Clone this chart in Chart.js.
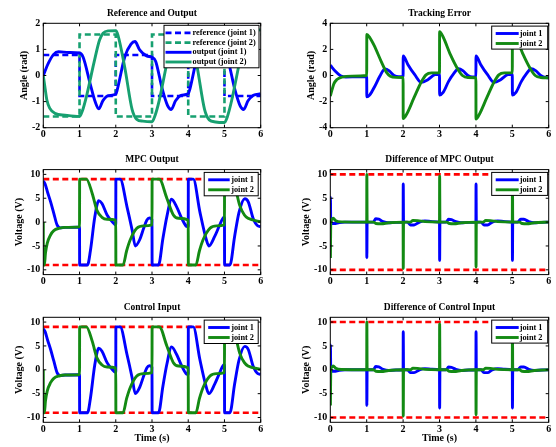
<!DOCTYPE html>
<html><head><meta charset="utf-8">
<script src="https://cdn.jsdelivr.net/npm/chart.js@4/dist/chart.umd.min.js"></script>
<style>
html,body{margin:0;padding:0;background:#fff;}
#wrap{position:relative;width:556px;height:447px;overflow:hidden;background:#fff;}
canvas{position:absolute;}
</style></head><body><div id="wrap">
<canvas id="c1"></canvas><canvas id="c2"></canvas>
<canvas id="c3"></canvas><canvas id="c4"></canvas>
<canvas id="c5"></canvas><canvas id="c6"></canvas>
</div>
<script>
// ---------- data ----------
const timeTicks = [0,1,2,3,4,5,6];
const angleTicks = [-2,-1,0,1,2];
const errorTicks = [-4,-2,0,2,4];
const voltTicks = [-10,-5,0,5,10];

const refTimes = [0,1,2,3,4,5,6];
const refJ1 = [0.785,-0.785,0.785,-0.785,0.785,-0.785,-0.785];
const refJ2 = [-1.571,1.571,-1.571,1.571,-1.571,1.571,1.571];

const outJ1 = [[0,0],[0.14,0.47],[0.28,0.8],[0.42,0.91],[0.7,0.88],[1.0,0.86],[1.1,0.7],[1.29,-0.3],[1.43,-1.0],[1.53,-1.28],[1.65,-0.95],[1.8,-0.77],[2.0,-0.72],[2.04,-0.55],[2.25,0.72],[2.42,1.2],[2.53,1.3],[2.66,0.98],[2.85,0.75],[3.0,0.7],[3.1,0.55],[3.28,-0.5],[3.43,-1.15],[3.53,-1.3],[3.65,-0.97],[3.8,-0.76],[4.0,-0.7],[4.04,-0.55],[4.25,0.72],[4.42,1.2],[4.53,1.3],[4.66,0.98],[4.85,0.75],[5.0,0.7],[5.1,0.55],[5.28,-0.5],[5.43,-1.15],[5.53,-1.3],[5.65,-0.97],[5.8,-0.76],[6.0,-0.7]];
const outJ2 = [[0,0],[0.05,-0.5],[0.1,-0.95],[0.18,-1.26],[0.32,-1.45],[0.6,-1.52],[1.0,-1.57],[1.08,-1.35],[1.2,-0.75],[1.4,0.5],[1.55,1.35],[1.65,1.62],[1.8,1.71],[2.0,1.72],[2.06,1.55],[2.25,0.3],[2.45,-1.3],[2.58,-1.68],[2.75,-1.75],[3.0,-1.77],[3.08,-1.55],[3.2,-0.95],[3.4,0.4],[3.55,1.35],[3.65,1.62],[3.8,1.72],[4.0,1.74],[4.06,1.57],[4.25,0.3],[4.45,-1.3],[4.58,-1.7],[4.75,-1.78],[5.0,-1.8],[5.08,-1.58],[5.2,-0.95],[5.4,0.4],[5.55,1.35],[5.65,1.62],[5.8,1.72],[6.0,1.75]];

const errJ1 = [[0,0.785],[0.14,0.32],[0.28,-0.02],[0.42,-0.12],[0.7,-0.1],[1.0,-0.08],[1.003,-1.64],[1.08,-1.5],[1.22,-0.84],[1.36,-0.06],[1.5,0.5],[1.62,0.35],[1.75,0.0],[1.88,-0.1],[2.0,-0.1],[2.003,1.5],[2.13,0.85],[2.32,0.06],[2.5,-0.53],[2.68,-0.32],[2.87,0.06],[3.0,0.1],[3.003,-1.49],[3.1,-1.3],[3.25,-0.45],[3.38,0.1],[3.52,0.52],[3.65,0.35],[3.78,0.0],[3.9,-0.12],[4.0,-0.1],[4.003,1.5],[4.13,0.85],[4.32,0.06],[4.5,-0.53],[4.68,-0.32],[4.87,0.06],[5.0,0.1],[5.003,-1.49],[5.1,-1.3],[5.25,-0.45],[5.38,0.1],[5.52,0.52],[5.65,0.35],[5.78,0.0],[5.9,-0.15],[6.0,-0.18]];
const errJ2 = [[0,-1.571],[0.05,-1.07],[0.1,-0.62],[0.18,-0.31],[0.32,-0.12],[0.6,-0.05],[1.0,0.0],[1.003,3.14],[1.08,2.92],[1.2,2.32],[1.4,1.07],[1.55,0.22],[1.65,-0.05],[1.8,-0.14],[2.0,-0.15],[2.003,-3.29],[2.1,-2.95],[2.3,-1.7],[2.5,-0.5],[2.63,0.05],[2.78,0.2],[3.0,0.2],[3.003,3.36],[3.1,2.95],[3.3,1.6],[3.5,0.5],[3.63,0.0],[3.78,-0.15],[4.0,-0.17],[4.003,-3.34],[4.1,-2.95],[4.3,-1.7],[4.5,-0.5],[4.63,0.05],[4.78,0.2],[5.0,0.22],[5.003,3.36],[5.1,2.95],[5.3,1.6],[5.5,0.5],[5.63,0.0],[5.78,-0.15],[6.0,-0.18]];

const mpcJ1 = [[0,8.6],[0.05,8.0],[0.12,6.2],[0.2,4.3],[0.29,1.85],[0.38,-0.6],[0.47,-1.2],[0.6,-1.1],[1.0,-1.05],[1.003,-9],[1.22,-9],[1.3,-6],[1.42,1.0],[1.53,4.5],[1.62,3.9],[1.76,1.5],[1.9,0.1],[2.0,-0.6],[2.003,9],[2.12,9],[2.31,3.2],[2.45,-1.6],[2.54,-5],[2.66,-3.7],[2.77,-1.3],[2.86,0.45],[2.93,0.85],[3.0,0.5],[3.003,-9],[3.18,-9],[3.3,-3.5],[3.41,1.15],[3.54,4.8],[3.68,3.2],[3.82,0.8],[3.96,-0.94],[4.0,-1.0],[4.003,9],[4.14,9],[4.32,2.2],[4.5,-3.7],[4.57,-5],[4.73,-3],[4.87,-0.6],[4.98,1.0],[5.0,1.0],[5.003,-9],[5.15,-9],[5.28,-3],[5.4,2],[5.56,4.9],[5.66,4.2],[5.79,0.8],[5.92,-0.8],[6.0,-0.94]];
const mpcJ2 = [[0,0],[0.003,-9],[0.03,-9],[0.06,-6.5],[0.11,-4.4],[0.2,-2.7],[0.29,-1.8],[0.43,-1.3],[0.6,-1.1],[1.0,-1.0],[1.003,9],[1.19,9],[1.35,6],[1.48,2.5],[1.62,1.0],[1.76,0.6],[2.0,0.4],[2.003,-9],[2.2,-9],[2.3,-6],[2.4,-3.7],[2.58,-1.3],[2.77,-0.8],[3.0,-0.6],[3.003,9],[3.2,9],[3.41,5],[3.59,1.5],[3.73,0.8],[4.0,0.4],[4.003,-9],[4.21,-9],[4.31,-6],[4.41,-3.7],[4.6,-1.3],[4.78,-0.8],[5.0,-0.6],[5.003,9],[5.2,9],[5.32,6.5],[5.42,3.5],[5.55,1.5],[5.65,0.8],[6.0,0.1]];

const dMpcJ1 = [[0,0],[0.004,5.2],[0.012,-0.25],[0.1,-0.3],[0.25,-0.1],[0.4,0],[1.0,0],[1.004,-7.5],[1.012,0],[1.18,0],[1.25,0.7],[1.33,0.6],[1.45,0.1],[1.6,-0.15],[1.8,-0.05],[2.0,0],[2.004,8],[2.012,0],[2.12,0],[2.2,-0.6],[2.3,-0.6],[2.45,0],[2.6,0.25],[2.8,0.1],[3.0,0],[3.004,-8],[3.012,0],[3.18,0],[3.25,0.6],[3.33,0.5],[3.45,0.1],[3.6,-0.15],[3.8,-0.05],[4.0,0],[4.004,8],[4.012,0],[4.14,0],[4.22,-0.6],[4.32,-0.6],[4.45,0],[4.6,0.25],[4.8,0.1],[5.0,0],[5.004,-8],[5.012,0],[5.15,0],[5.23,0.6],[5.32,0.6],[5.45,0.1],[5.6,-0.15],[5.8,-0.05],[6.0,0]];
const dMpcJ2 = [[0,0],[0.004,-7.2],[0.012,0],[0.05,0.6],[0.08,0.8],[0.15,0.3],[0.3,0.05],[1.0,0],[1.004,10],[1.012,0],[1.19,0],[1.25,-0.3],[1.4,-0.35],[1.6,-0.15],[2.0,0],[2.004,-9.7],[2.012,0],[2.2,0],[2.27,0.35],[2.4,0.3],[2.6,0.1],[3.0,0],[3.004,9.6],[3.012,0],[3.2,0],[3.27,-0.3],[3.4,-0.35],[3.6,-0.15],[4.0,0],[4.004,-9.4],[4.012,0],[4.2,0],[4.27,0.35],[4.4,0.3],[4.6,0.1],[5.0,0],[5.004,9.7],[5.012,0],[5.2,0],[5.27,-0.3],[5.4,-0.35],[5.6,-0.15],[6.0,0]];

const ctrlJ1 = mpcJ1;
const ctrlJ2 = mpcJ2;
const dCtrlJ1 = dMpcJ1;
const dCtrlJ2 = dMpcJ2;

const mpcLimits = [9, -9];
const diffLimits = [10, -10];

// ---------- styling ----------
const FONT = 'Liberation Serif';
const C_BLUE = '#0000ff', C_TEAL = '#17a070', C_GREEN = '#138a13', C_RED = '#ff0000';
const LW = 2.9;

const P = a => a.map(([x, y]) => ({x, y}));
function line(label, data, color, order, extra) {
  return Object.assign({label, data, borderColor: color, backgroundColor: color, borderWidth: LW,
    pointRadius: 0, fill: false, cubicInterpolationMode: 'monotone', order}, extra || {});
}
function limitLines(vals) {
  return vals.map(v => ({label: 'limit', mlHide: true, data: [{x: timeTicks[0], y: v}, {x: timeTicks[timeTicks.length-1], y: v}],
    borderColor: C_RED, borderWidth: 2.6, borderDash: [6, 3.5], pointRadius: 0, fill: false, order: 20}));
}

const framePlugin = {
  id: 'mframe',
  afterDatasetsDraw(chart) {
    const {ctx, chartArea: a, scales} = chart;
    ctx.save();
    ctx.strokeStyle = '#000'; ctx.lineWidth = 1; ctx.setLineDash([]);
    ctx.strokeRect(a.left, a.top, a.right - a.left, a.bottom - a.top);
    ctx.beginPath();
    scales.x.ticks.forEach(t => { const p = scales.x.getPixelForValue(t.value);
      ctx.moveTo(p, a.bottom); ctx.lineTo(p, a.bottom - 3); ctx.moveTo(p, a.top); ctx.lineTo(p, a.top + 3); });
    scales.y.ticks.forEach(t => { const p = scales.y.getPixelForValue(t.value);
      ctx.moveTo(a.left, p); ctx.lineTo(a.left + 3, p); ctx.moveTo(a.right, p); ctx.lineTo(a.right - 3, p); });
    ctx.stroke();
    const o = chart.options.plugins.mleg;
    if (o) {
      const items = chart.data.datasets.filter(d => !d.mlHide);
      const x1 = a.right - o.dx - o.w, y1 = a.top + o.dy;
      ctx.fillStyle = '#fff'; ctx.fillRect(x1, y1, o.w, o.h);
      ctx.strokeRect(x1, y1, o.w, o.h);
      ctx.font = 'bold ' + o.fs + 'px "' + FONT + '"';
      ctx.textBaseline = 'middle'; ctx.textAlign = 'left';
      items.forEach((d, i) => {
        const cy = y1 + o.first + i * o.rowH;
        ctx.save(); ctx.strokeStyle = d.borderColor; ctx.lineWidth = d.borderWidth; ctx.setLineDash(d.borderDash || []);
        ctx.beginPath(); ctx.moveTo(x1 + o.lx0, cy); ctx.lineTo(x1 + o.lx1, cy); ctx.stroke(); ctx.restore();
        ctx.fillStyle = '#000'; ctx.fillText(d.label, x1 + o.tx, cy);
      });
    }
    ctx.restore();
  }
};

const COLS = [{left: 0, yw: 43.3, pr: 17.3}, {left: 278, yw: 52.3, pr: 7.3}];
const ROWS = [{top: 0, h: 140, ca: 23.3, cb: 127.7, tc: 13.3},
              {top: 140, h: 150, ca: 29.6, cb: 134.6, tc: 20},
              {top: 290, h: 157, ca: 27.3, cb: 132.3, tc: 17.3}];
const LEG2L = {w: 54, h: 23.4, dx: 2.5, dy: 2.8, first: 7.4, rowH: 10, lx0: 4, lx1: 25.5, tx: 27, fs: 8.3};
const LEG2R = {w: 56, h: 23, dx: 1, dy: 2.8, first: 7.4, rowH: 10, lx0: 4, lx1: 27, tx: 28, fs: 8.3};
const LEG4 = {w: 95, h: 42.5, dx: 1.7, dy: 2, first: 7.6, rowH: 9.7, lx0: 1.5, lx1: 27.5, tx: 28.5, fs: 8.3};

function build(id, col, row, o) {
  const c = COLS[col], r = ROWS[row];
  const cv = document.getElementById(id);
  cv.width = 278; cv.height = r.h;
  cv.style.left = c.left + 'px'; cv.style.top = r.top + 'px';
  const tfs = 9.5, lh = 1.2;
  const tpTop = r.tc - tfs * lh / 2;
  const tickFont = {family: FONT, size: 10, weight: 'bold'};
  return new Chart(cv, {
    type: 'line',
    data: {datasets: o.datasets},
    options: {
      responsive: false, animation: false, devicePixelRatio: 1,
      layout: {padding: {left: 0, right: c.pr, top: 0, bottom: 0}},
      plugins: {
        legend: {display: false}, tooltip: {enabled: false},
        title: {display: true, text: o.title, fullSize: false, color: '#000',
          font: {family: FONT, size: tfs, weight: 'bold', lineHeight: lh},
          padding: {top: tpTop, bottom: r.ca - tpTop - tfs * lh}},
        mleg: o.leg
      },
      scales: {
        x: {type: 'linear', min: timeTicks[0], max: timeTicks[timeTicks.length - 1],
          grid: {display: false, drawTicks: false}, border: {display: false},
          afterBuildTicks: s => { s.ticks = timeTicks.map(v => ({value: v})); },
          afterFit: s => { s.height = r.h - r.cb; },
          ticks: {font: tickFont, color: '#000', padding: 1, autoSkip: false, maxRotation: 0, callback: v => String(v)},
          title: {display: !!o.xtitle, text: o.xtitle || '', color: '#000',
            font: {family: FONT, size: 10, weight: 'bold', lineHeight: 1.2}, padding: {top: 0, bottom: 2.7}}
        },
        y: {type: 'linear', min: o.ymin, max: o.ymax,
          grid: {display: false, drawTicks: false}, border: {display: false},
          afterBuildTicks: s => { s.ticks = o.yticks.map(v => ({value: v})); },
          afterFit: s => { s.width = c.yw; },
          ticks: {font: tickFont, color: '#000', padding: 3, autoSkip: false, callback: v => String(v)},
          title: {display: true, text: o.ytitle, color: '#000',
            font: {family: FONT, size: 10, weight: 'bold', lineHeight: 1.2}, padding: {top: o.ytc - 6, bottom: 0}}
        }
      }
    },
    plugins: [framePlugin]
  });
}

const refPts = vals => refTimes.map((t, i) => ({x: t, y: vals[i]}));

build('c1', 0, 0, {
  title: 'Reference and Output', ytitle: 'Angle (rad)', ytc: 24.8, ymin: -2, ymax: 2, yticks: angleTicks, leg: LEG4,
  datasets: [
    line('reference (joint 1)', refPts(refJ1), C_BLUE, 4, {stepped: 'before', cubicInterpolationMode: 'default', borderDash: [6, 3.5], borderWidth: 2.6}),
    line('reference (joint 2)', refPts(refJ2), C_TEAL, 3, {stepped: 'before', cubicInterpolationMode: 'default', borderDash: [6, 3.5], borderWidth: 2.6}),
    line('output (joint 1)', P(outJ1), C_BLUE, 2),
    line('output (joint 2)', P(outJ2), C_TEAL, 1)
  ]
});
build('c2', 1, 0, {
  title: 'Tracking Error', ytitle: 'Angle (rad)', ytc: 33.3, ymin: -4, ymax: 4, yticks: errorTicks, leg: LEG2R,
  datasets: [line('joint 1', P(errJ1), C_BLUE, 2), line('joint 2', P(errJ2), C_GREEN, 1)]
});
build('c3', 0, 1, {
  title: 'MPC Output', ytitle: 'Voltage (V)', ytc: 19, ymin: -11, ymax: 11, yticks: voltTicks, leg: LEG2L,
  datasets: [line('joint 1', P(mpcJ1), C_BLUE, 2), line('joint 2', P(mpcJ2), C_GREEN, 1)].concat(limitLines(mpcLimits))
});
build('c4', 1, 1, {
  title: 'Difference of MPC Output', ytitle: 'Voltage (V)', ytc: 28.7, ymin: -11, ymax: 11, yticks: voltTicks, leg: LEG2R,
  datasets: [line('joint 1', P(dMpcJ1), C_BLUE, 2), line('joint 2', P(dMpcJ2), C_GREEN, 1)].concat(limitLines(diffLimits))
});
build('c5', 0, 2, {
  title: 'Control Input', ytitle: 'Voltage (V)', ytc: 19, xtitle: 'Time (s)', ymin: -11, ymax: 11, yticks: voltTicks, leg: LEG2L,
  datasets: [line('joint 1', P(ctrlJ1), C_BLUE, 2), line('joint 2', P(ctrlJ2), C_GREEN, 1)].concat(limitLines(mpcLimits))
});
build('c6', 1, 2, {
  title: 'Difference of Control Input', ytitle: 'Voltage (V)', ytc: 28.7, xtitle: 'Time (s)', ymin: -11, ymax: 11, yticks: voltTicks, leg: LEG2R,
  datasets: [line('joint 1', P(dCtrlJ1), C_BLUE, 2), line('joint 2', P(dCtrlJ2), C_GREEN, 1)].concat(limitLines(diffLimits))
});
</script>
</body></html>
